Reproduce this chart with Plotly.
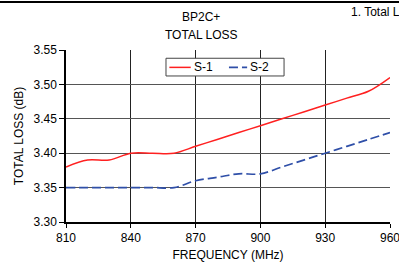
import plotly.graph_objects as go

freq = [810, 820, 830, 840, 850, 860, 870, 880, 890, 900, 910, 920, 930, 940, 950, 960]
s1 = [3.38, 3.39, 3.39, 3.40, 3.40, 3.40, 3.41, 3.42, 3.43, 3.44, 3.45, 3.46, 3.47, 3.48, 3.49, 3.51]
s2 = [3.35, 3.35, 3.35, 3.35, 3.35, 3.35, 3.36, 3.365, 3.37, 3.37, 3.38, 3.39, 3.40, 3.41, 3.42, 3.43]
x_ticks = [810, 840, 870, 900, 930, 960]
y_ticks = [3.30, 3.35, 3.40, 3.45, 3.50, 3.55]

FONT = "Liberation Sans, Arial, sans-serif"
RED = "#FF2020"
BLUE = "#2F4FA8"
DASH = "9px,4px"

fig = go.Figure()
fig.add_trace(go.Scatter(x=freq, y=s1, name="S-1", mode="lines",
                         line=dict(color=RED, width=1.5, shape="spline", smoothing=1.0)))
fig.add_trace(go.Scatter(x=freq, y=s2, name="S-2", mode="lines",
                         line=dict(color=BLUE, width=1.7, dash=DASH, shape="spline", smoothing=1.0)))

# custom legend (paper coordinates)
lg_y = 0.899
shapes = [
    dict(type="line", xref="paper", yref="paper", x0=-0.25, x1=1.05, y0=1.2795, y1=1.2795,
         line=dict(color="black", width=2)),
    dict(type="rect", xref="paper", yref="paper", x0=0.3086, x1=0.673, y0=0.849, y1=0.952,
         fillcolor="white", line=dict(color="#444444", width=1), layer="above"),
    dict(type="line", xref="paper", yref="paper", x0=0.319, x1=0.385, y0=lg_y, y1=lg_y,
         line=dict(color=RED, width=1.5), layer="above"),
    dict(type="line", xref="paper", yref="paper", x0=0.503, x1=0.559, y0=lg_y, y1=lg_y,
         line=dict(color=BLUE, width=1.7, dash=DASH), layer="above"),
]

fig.update_layout(
    template="none",
    width=399, height=269,
    margin=dict(l=66, r=9, t=50, b=47, autoexpand=False),
    paper_bgcolor="white", plot_bgcolor="white",
    font=dict(family=FONT, size=12, color="black"),
    showlegend=False,
    xaxis=dict(range=[810, 960], tickvals=x_ticks, ticktext=[str(v) for v in x_ticks],
               automargin=False,
               showgrid=True, gridcolor="#222222", gridwidth=1,
               showline=True, linecolor="black", linewidth=1.5,
               ticks="outside", ticklen=4, tickcolor="black",
               ticklabeloverflow="allow",
               title=dict(text="FREQUENCY (MHz)", standoff=6, font=dict(size=12)),
               zeroline=False),
    yaxis=dict(range=[3.30, 3.55], tickvals=y_ticks, ticktext=["%.2f" % v for v in y_ticks],
               automargin=False,
               showgrid=True, gridcolor="#555555", gridwidth=1,
               showline=True, linecolor="black", linewidth=1.5,
               ticks="outside", ticklen=5, tickcolor="black",
               ticklabeloverflow="allow",
               title=dict(text="TOTAL LOSS (dB)", standoff=7, font=dict(size=12)),
               zeroline=False),
    annotations=[
        dict(text="BP2C+", xref="paper", yref="paper", x=0.417, y=1.1925, showarrow=False,
             xanchor="center", yanchor="middle", font=dict(size=12)),
        dict(text="TOTAL LOSS", xref="paper", yref="paper", x=0.417, y=1.09, showarrow=False,
             xanchor="center", yanchor="middle", font=dict(size=12)),
        dict(text="1. Total Loss", xref="paper", yref="paper", x=0.874, y=1.22, showarrow=False,
             xanchor="left", yanchor="middle", font=dict(size=12)),
        dict(text="S-1", xref="paper", yref="paper", x=0.389, y=lg_y, showarrow=False,
             xanchor="left", yanchor="middle", font=dict(size=12)),
        dict(text="S-2", xref="paper", yref="paper", x=0.562, y=lg_y, showarrow=False,
             xanchor="left", yanchor="middle", font=dict(size=12)),
    ],
    shapes=shapes,
)

fig.write_html("out.html", config={"displayModeBar": False},
               post_script="document.body.style.margin='0';document.body.style.overflow='hidden';")
